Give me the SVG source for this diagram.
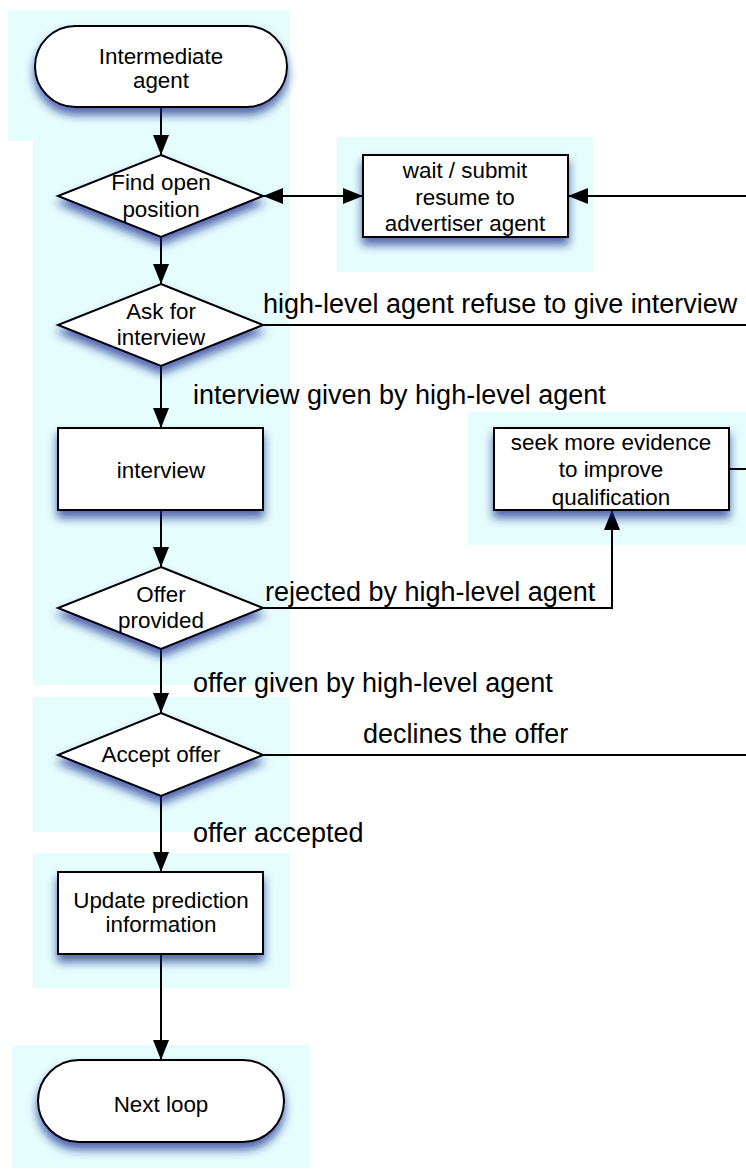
<svg xmlns="http://www.w3.org/2000/svg" width="746" height="1169" viewBox="0 0 746 1169">
<style>
.bg{fill:#e6fdfe;stroke:none}
.node{fill:#fff;stroke:#000;stroke-width:2;filter:url(#sh)}
.t{font-family:"Liberation Sans",Arial,sans-serif;font-size:22.4px;fill:#000;text-anchor:middle}
.lbl{font-family:"Liberation Sans",Arial,sans-serif;font-size:27px;fill:#000}
.c{fill:none;stroke:#000;stroke-width:2}
</style>
<defs>
<filter id="sh" x="-20%" y="-30%" width="140%" height="170%">
<feDropShadow dx="0" dy="7" stdDeviation="5" flood-color="#10208a" flood-opacity="0.7"/>
</filter>
<marker id="ah" markerUnits="userSpaceOnUse" markerWidth="20" markerHeight="16" refX="20" refY="8" orient="auto">
<path d="M0,0 L20,8 L0,16 z" fill="#000"/>
</marker>
<marker id="as" markerUnits="userSpaceOnUse" markerWidth="20" markerHeight="16" refX="0" refY="8" orient="auto">
<path d="M20,0 L0,8 L20,16 z" fill="#000"/>
</marker>
</defs>
<g id="backgrounds">
<rect class="bg" x="8" y="10" width="282" height="131"/>
<rect class="bg" x="33" y="141" width="257" height="544"/>
<rect class="bg" x="33" y="697" width="257" height="135"/>
<rect class="bg" x="33" y="853" width="257" height="135"/>
<rect class="bg" x="12" y="1045" width="298" height="123"/>
<rect class="bg" x="337" y="137" width="256" height="135"/>
<rect class="bg" x="468" y="412" width="278" height="133"/>
</g>
<g id="connectors">
<line class="c" x1="161" y1="107" x2="161" y2="155" marker-end="url(#ah)"/>
<line class="c" x1="161" y1="237" x2="161" y2="284" marker-end="url(#ah)"/>
<line class="c" x1="161" y1="366" x2="161" y2="428" marker-end="url(#ah)"/>
<line class="c" x1="161" y1="510" x2="161" y2="567" marker-end="url(#ah)"/>
<line class="c" x1="161" y1="649" x2="161" y2="713" marker-end="url(#ah)"/>
<line class="c" x1="161" y1="796" x2="161" y2="872" marker-end="url(#ah)"/>
<line class="c" x1="161" y1="954" x2="161" y2="1060" marker-end="url(#ah)"/>
<line class="c" x1="263" y1="196" x2="363" y2="196" marker-start="url(#as)" marker-end="url(#ah)"/>
<line class="c" x1="746" y1="196" x2="568" y2="196" marker-end="url(#ah)"/>
<line class="c" x1="263" y1="325" x2="746" y2="325"/>
<polyline class="c" points="263,608 612,608 612,510" marker-end="url(#ah)"/>
<line class="c" x1="263" y1="755" x2="746" y2="755"/>
<line class="c" x1="729" y1="469" x2="746" y2="469"/>
<text class="lbl" x="263" y="313">high-level agent refuse to give interview</text>
<text class="lbl" x="193" y="404">interview given by high-level agent</text>
<text class="lbl" x="265" y="601">rejected by high-level agent</text>
<text class="lbl" x="193" y="692">offer given by high-level agent</text>
<text class="lbl" x="363" y="743">declines the offer</text>
<text class="lbl" x="193" y="842">offer accepted</text>
</g>
<g id="n-intermediate">
<rect class="node" x="35" y="26" width="252" height="81" rx="40.5"/>
<text class="t" x="161" y="64">Intermediate</text>
<text class="t" x="161" y="88">agent</text>
</g>
<g id="n-find">
<polygon class="node" points="161,155 263,196 161,237 58,196"/>
<text class="t" x="161" y="190">Find open</text>
<text class="t" x="161" y="217">position</text>
</g>
<g id="n-wait">
<rect class="node" x="363" y="155" width="205" height="82"/>
<text class="t" x="465" y="178">wait / submit</text>
<text class="t" x="465" y="205">resume to</text>
<text class="t" x="465" y="231">advertiser agent</text>
</g>
<g id="n-ask">
<polygon class="node" points="161,284 263,325 161,366 58,325"/>
<text class="t" x="161" y="319">Ask for</text>
<text class="t" x="161" y="345">interview</text>
</g>
<g id="n-interview">
<rect class="node" x="58" y="428" width="205" height="82"/>
<text class="t" x="161" y="478">interview</text>
</g>
<g id="n-seek">
<rect class="node" x="494" y="428" width="235" height="82"/>
<text class="t" x="611" y="450">seek more evidence</text>
<text class="t" x="611" y="477">to improve</text>
<text class="t" x="611" y="505">qualification</text>
</g>
<g id="n-offer">
<polygon class="node" points="161,567 263,608 161,649 58,608"/>
<text class="t" x="161" y="602">Offer</text>
<text class="t" x="161" y="628">provided</text>
</g>
<g id="n-accept">
<polygon class="node" points="161,713 263,755 161,796 58,755"/>
<text class="t" x="161" y="762">Accept offer</text>
</g>
<g id="n-update">
<rect class="node" x="58" y="872" width="205" height="82"/>
<text class="t" x="161" y="908">Update prediction</text>
<text class="t" x="161" y="932">information</text>
</g>
<g id="n-next">
<rect class="node" x="38" y="1060" width="246" height="82" rx="41"/>
<text class="t" x="161" y="1112">Next loop</text>
</g>
</svg>
